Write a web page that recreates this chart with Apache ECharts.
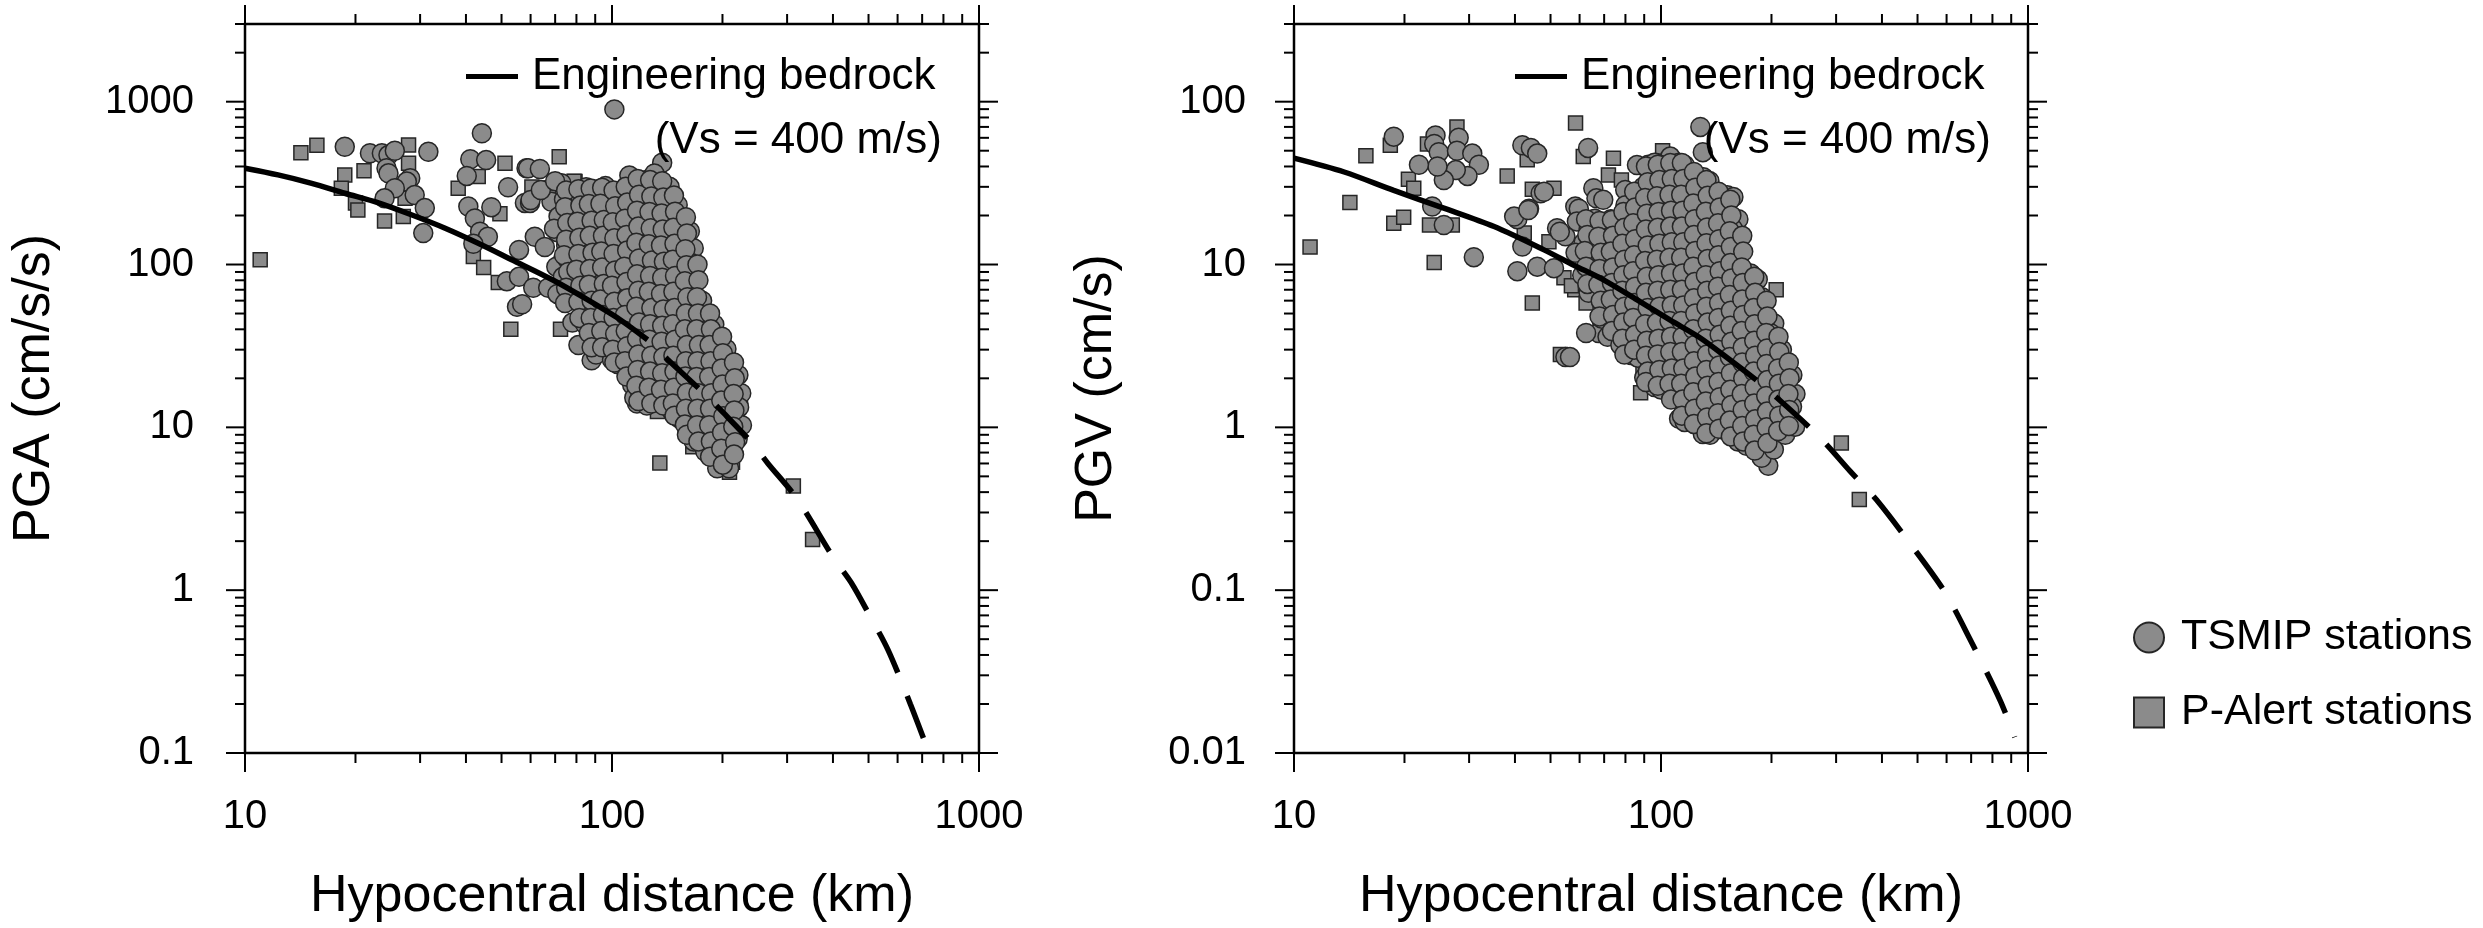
<!DOCTYPE html>
<html>
<head>
<meta charset="utf-8">
<script src="https://cdn.jsdelivr.net/npm/echarts@6/dist/echarts.min.js"></script>
<style>
html,body{margin:0;padding:0;background:#fff;}
#chart{width:2483px;height:928px;}
</style>
</head>
<body>
<div id="chart"></div>
<script>
// ---------------- DATA ----------------
const distTicks = [10, 100, 1000];
const pgaTicks = [0.1, 1, 10, 100, 1000];
const pgvTicks = [0.01, 0.1, 1, 10, 100];
const minorSteps = [2, 3, 4, 5, 6, 7, 8, 9];
const distRange = [10, 1000];
const pgaRange = [0.1, 3000];
const pgvRange = [0.01, 300];

// Engineering bedrock curve (distance km, amplitude)
const pgaCurveSolid = [[10,390],[12.3,355],[15.2,315],[18.7,274],[23.1,239],[28.4,202],[35.1,167],[43.2,135],[53.3,107],[69.2,80],[85.5,61],[105,46],[125,34.5]];
const pgaCurveDashed = [[125,34.5],[142,26],[177,16.4],[201,12.3],[242,7.9],[266,6.0],[319,3.65],[400,1.6],[450,1.1],[500,0.72],[565,0.43],[650,0.2],[731,0.1]];
const pgvCurveSolid = [[10,45],[13.7,37],[18.7,28.5],[25.6,22.2],[35.1,17.1],[48,12.3],[57.9,9.9],[69.7,8.05],[85.9,6.08],[106,4.55],[128,3.54],[154,2.6],[182,1.95]];
const pgvCurveDashed = [[182,1.95],[207,1.52],[255,0.99],[283,0.78],[327,0.54],[386,0.36],[480,0.19],[594,0.097],[695,0.05],[840,0.021],[920,0.0125]];

// PGA - TSMIP stations (circles)
const pgaTsmipLoose = [[18.7,529],[21.9,482],[23.6,482],[24.6,470],[25.6,500],[31.6,493],[24.3,390],[24.6,363],[28.2,339],[27.6,323],[25.6,294],[24.0,255],[29.0,267],[30.9,222],[30.6,156],[44.2,640],[41.1,443],[45.4,438],[40.2,350],[52.1,298],[40.6,227],[46.9,225],[42.3,192],[43.7,159],[45.9,148],[41.9,134],[51.7,79],[55.1,55],[55.8,123],[58.5,390],[57.9,239],[101.5,897],[137,422],[59.1,390],[63.6,386],[66.3,287],[72.8,316],[59.8,239],[68.4,243],[79.3,261],[79.3,205],[92.7,280],[105,267],[119,255],[124,330],[139,274],[88,25.8],[117,14],[127,14.1],[153,11.3],[172,14.4],[138,16.6],[127,18.8],[187,18.3],[207,21.8],[213,16.6],[221,13.8],[216,12],[203,9.5],[181,10.2],[179,7.5],[199,6.05],[183,7.5],[203,6.2],[55.8,84],[61,72],[67,72],[56.9,57],[61.6,148],[65.6,128],[71,158],[73.6,107],[78,102],[60,249],[64,287]];
const pgaTsmipCluster = [
[70,325],[74,251],[71.5,197],[69.5,166],[75,131],[70.5,97],[73.5,84],[71,66],
[79,265],[76,231],[80.5,171],[77.5,150],[75.5,108],[80,95],[76.5,68],[79.5,60],[78,44],
[85,298],[82,258],[86.5,190],[83,165],[81.5,121],[87,106],[83.5,76],[82,67],[86,48],[84.5,43],[81,32],
[91.5,290],[88.5,213],[90,185],[92.5,135],[89,118],[87.5,86],[92,75],[89.5,54],[93,48],[88,37],[90.5,28],
[96,303],[99.5,246],[95.5,201],[100,156],[96.5,128],[99,100],[95,82],[100.5,63],[96,52],[99,40],[95.5,33],[100,26],
[106.5,268],[103,231],[107.5,170],[104,148],[102,108],[108,95],[103.5,68],[108.5,60],[104.5,44],[102,38],[107,28],[103.5,24.5],
[111.5,352],[114.5,276],[112,224],[115.5,175],[110.5,144],[116,112],[112.5,91],[110,71],[115,58],[112,46],[109.5,36],[115.5,28.5],[111.5,23.2],[113.5,18.2],[115,15.2],
[123.5,310],[120,251],[124.5,196],[121,160],[118.5,125],[125,102],[121.5,78],[119.5,65],[124,50.5],[120.5,41],[118,33.5],[125.5,25],[121,21.6],[119.5,15.8],[124.5,13.6],
[130.5,362],[133.5,268],[131,231],[134.5,170],[129,148],[135,108],[131.5,95],[129.5,68],[134,60],[130.5,44],[128.5,37.5],[135.5,27.8],[131,24.2],[133,17.8],[130,15.2],
[143.5,300],[139.5,258],[145,191],[140.5,166],[138.5,121],[146,106],[141,76],[139,67],[145,49],[141.5,42.5],[138,31],[146,27.2],[140.5,19.8],[143,17.1],[145.5,12.6],
[151,232],[155,170],[152,149],[156,108],[149.5,95],[157,68],[151.5,60],[155.5,44],[150,37.8],[156.5,27.8],[152,24.1],[157.5,17.6],[150.5,15.2],[154.5,11.3],
[163,160],[167,126],[164.5,102],[168,80],[161.5,65],[169,50.5],[163.5,41.2],[166.5,31.8],[162.5,26.4],[168.5,20.4],[164,16.7],[170,12.9],[163,10.6],[167,8.2],
[176,60],[180,44],[177.5,38],[181.5,27.9],[175,24.2],[182,17.6],[176.5,15.3],[180.5,11.2],[175.5,9.7],[179.5,7.1],
[190,42.8],[194.5,31],[191,27.1],[195,19.6],[188.5,17.2],[196,12.6],[190.5,10.9],[194,8],[189,6.9],[193.5,5.6],
[205,30.3],[209.5,22.1],[206,19.3],[210.5,13.9],[203.5,12.3],[211,8.9],[205.5,7.7],[208.5,5.6],
[221,21],[225,16.2],[222,13.3],[226,10.3],[220,8.5]];
const pgaTsmipFill = [
[75,285],[74.5,225],[75.5,180],[75,142],[74,114],[76,90],[75,72],[74.5,58],
[81,290],[82,230],[80.5,183],[81.5,146],[81,116],[80,93],[82,74],[81,59],[81.5,47],
[87.5,293],[86.5,235],[88,186],[87,150],[88.5,118],[87,94],[86.5,75],[88,60],[87.5,47],[86.5,38],[88,31],
[94,296],[93,236],[95,188],[94.5,150],[93.5,120],[94,96],[95,76],[93,61],[94.5,49],[93.5,39],[94,31],
[101,285],[102,228],[100.5,182],[101.5,145],[101,116],[102,92],[100,74],[101.5,59],[101,47],[102,37.5],[100.5,30],[101.5,25],
[109,300],[110,240],[108.5,191],[109.5,152],[110,122],[108,97],[109.5,78],[110,62],[108.5,49],[109,39],[110,31.5],[108.5,25.5],[109.5,20.5],
[117.5,335],[118.5,268],[117,214],[118,171],[116.5,136],[118.5,109],[117,87],[118,69],[116.5,55],[118.5,44],[117,35],[118,28],[117.5,22.5],[116.5,18],[118,14.5],
[127,330],[128,262],[126.5,210],[127.5,167],[126,133],[128.5,106],[127,85],[126,68],[128,54],[127,43],[126.5,34.5],[128,27.5],[127,22],[126,17.5],[128,14],
[137,325],[138,258],[136.5,206],[137.5,164],[136,131],[138.5,104],[137,83],[136,66],[138,53],[137,42],[136.5,33.5],[138,27],[137,21.5],[136,17],[138,13.6],
[147.5,265],[148.5,211],[147,168],[148,134],[146.5,107],[148.5,85],[147,68],[148,54],[146.5,43],[148.5,34.5],[147,27.5],[148,22],[147.5,17.5],[146.5,14],[148,11.8],
[159,195],[160,155],[158.5,124],[159.5,99],[158,79],[160.5,63],[159,50],[158,40],[160,32],[159,25.5],[158.5,20.5],[160,16.3],[159,13],[158,10.4],[160,9],
[171,100],[172,80],[170.5,63],[171.5,50],[170,40],[172.5,32],[171,25.5],[170,20.4],[172,16.2],[171,13],[170.5,10.3],[172,8.2],
[185,50],[186,40],[184.5,32],[185.5,25.5],[184,20.4],[186.5,16.2],[185,13],[184,10.3],[186,8.2],[185,6.6],
[199.5,36],[200.5,28.5],[199,23],[200,18.3],[198.5,14.6],[201,11.7],[199.5,9.3],[198.5,7.4],[200.5,5.9],
[215,25],[216,20],[214.5,16],[215.5,12.7],[214,10.1],[216.5,8.1],[215,6.8]];
// PGA - P-Alert stations (squares)
const pgaPAlert = [[11,107],[14.2,486],[15.7,540],[18.7,355],[18.3,294],[20,239],[20.3,216],[21.1,377],[27.9,542],[27.9,419],[27.3,255],[24,185],[27,197],[51.1,419],[43.2,347],[38.1,294],[49.5,205],[41.9,112],[44.7,96],[49,77.6],[53,40],[71.8,459],[79.3,323],[60.5,299],[72.4,40],[83.6,33],[135,6.05],[312,4.36],[352,2.05],[209,5.3],[213,6.1],[103,27.3],[112,25.4],[197,34.5],[210,25.2],[166,7.6],[133,12.5],[135,325],[78.8,325],[90,60],[97,45],[120,55],[150,70],[165,120],[130,180],[100,160],[142,40],[160,20],[188,12]];

// PGV - TSMIP stations (circles)
const pgvTsmipLoose = [[18.7,61],[24.3,62],[24.1,55],[24.8,49],[28.1,60],[27.8,50],[30.6,48],[31.9,41],[29.7,35],[27.6,38],[25.6,33],[24.6,40],[21.9,41],[23.8,22.7],[25.6,17.5],[30.9,11.1],[41.9,54],[44.2,52],[46,48],[47,27.4],[43.7,22],[40.6,19],[39.8,19.7],[41.9,12.9],[40.6,9.1],[46,9.7],[51.1,9.5],[52.1,16.7],[54.9,14.9],[54.9,2.7],[63.3,52],[65.4,29.4],[66.7,25.5],[69.6,25],[79.9,28.7],[58.4,22.7],[128,70],[130,49],[67.6,3.8],[56.5,2.7],[43.5,21.6],[48,28],[53,15.9],[59.7,22],[73,19],[81,18],[65,12.9],[73,14.2],[62.5,3.8],[196,0.58],[92.3,41],[97.4,42],[106,46]];
const pgvTsmipCluster = [
[59,18.4],[61.5,13.6],[58.5,11.8],[61,8.6],
[66,19.1],[63.5,16.5],[67,12.0],[64,10.5],[66.5,7.7],[63.5,6.7],
[69.5,17.9],[72,14.0],[69,11.5],[72.5,8.8],[69.5,7.3],[72,5.6],[69,4.65],[71.5,3.6],
[78,19.6],[75.5,16.1],[78.5,12.4],[75,10.2],[78,7.9],[75.5,6.5],[78.5,5.0],[75,4.1],[77.5,3.2],
[80,23.1],[83,17.0],[79.5,14.8],[83.5,10.8],[80,9.4],[83,6.9],[79.5,5.9],[82.5,4.4],[80,3.8],[83,2.78],
[86,40.8],[89.5,30],[86.5,25.9],[90,19.1],[86,16.5],[89.5,12.1],[85.5,10.5],[90.5,7.7],[86.5,6.7],[89.5,4.85],[86,4.2],[89,3.1],[86.5,2.68],[90,2.02],
[96,42.2],[93,36.6],[96.5,26.8],[93,23.2],[96.5,17],[92.5,14.9],[96,10.8],[93,9.4],[96.5,6.9],[93.5,5.95],[96,4.4],[93,3.8],[96.5,2.78],[93.5,2.4],[96,1.77],
[100,40.9],[103.5,30],[100.5,25.9],[104,19.1],[99.5,16.5],[104,12.1],[100.5,10.5],[103.5,7.7],[100,6.7],[104,4.85],[99.5,4.2],[104.5,3.1],[100.5,2.68],[103.5,1.98],[100,1.71],
[112,42.2],[108,36.6],[112.5,26.8],[108,23.2],[112,17],[107.5,14.9],[112.5,10.8],[108,9.4],[112,6.9],[107.5,5.95],[112.5,4.4],[108,3.8],[112,2.78],[107.5,2.4],[112.5,1.77],[108,1.52],[112,1.13],
[116,40.9],[120.5,30],[116.5,25.9],[121,19.1],[116,16.5],[121,12.1],[116.5,10.5],[120.5,7.7],[116,6.7],[121,4.85],[116.5,4.2],[121,3.1],[116,2.68],[120.5,1.98],[116.5,1.71],[121,1.26],[116,1.08],
[130.5,34.4],[125.5,28.4],[131,21.8],[125.5,18.1],[130.5,13.9],[125,11.5],[131,8.8],[125.5,7.3],[130.5,5.6],[125,4.65],[131,3.6],[125.5,2.95],[130.5,2.26],[125,1.88],[131,1.43],[125.5,1.2],[130,0.91],
[135.5,32.6],[140.5,23.8],[135,20.8],[141,15.1],[135.5,13.2],[141,9.6],[135,8.4],[140.5,6.1],[135.5,5.4],[141,3.9],[135,3.4],[140.5,2.47],[135.5,2.15],[141,1.57],[135,1.38],[140.5,1.0],[136,0.9],
[151.5,26.6],[146.5,23.3],[152,16.9],[146.5,14.9],[152,10.7],[146,9.4],[151.5,6.9],[146.5,6.0],[152,4.35],[146,3.8],[151.5,2.76],[146.5,2.4],[152,1.76],[146,1.53],[151.5,1.12],[147,0.97],
[157.5,26],[162.5,19],[157,16.6],[163,12],[157.5,10.5],[163,7.6],[157,6.7],[162.5,4.85],[157.5,4.2],[163,3.1],[157,2.68],[162.5,1.98],[157.5,1.71],[163,1.26],[157,1.08],[162,0.82],
[175.5,8.8],[170.5,7.3],[176,5.6],[170.5,4.65],[175.5,3.6],[170,2.95],[176,2.26],[170.5,1.88],[175.5,1.43],[170,1.2],[176,0.91],[171,0.77],
[183.5,8.1],[188.5,6.3],[183,5.2],[189,3.95],[183.5,3.3],[189,2.52],[183,2.1],[188.5,1.6],[183.5,1.34],[189,1.02],[183,0.87],[188,0.65],
[203.5,4.35],[198.5,3.8],[204,2.76],[198.5,2.4],[203.5,1.76],[198,1.53],[204,1.12],[198.5,0.97],[203,0.73],
[213.5,3.0],[218.5,2.23],[213,1.9],[219,1.41],[213.5,1.2],[218,0.9],
[228,2.1],[232.5,1.6],[227.5,1.34],[232,1.01]];
const pgvTsmipFill = [
[62.5,19],[63,15.2],[62,12.1],[62.5,9.7],[63,7.6],
[68,18.5],[67.5,14.8],[68.5,11.8],[68,9.4],[67.5,7.5],[68.5,6.0],[68,4.8],
[73.5,18.8],[74,15],[73,12],[74,9.6],[73.5,7.7],[73,6.1],[74,4.9],[73.5,3.9],
[79,21],[79.5,16.8],[78.5,13.4],[79.5,10.7],[79,8.6],[78.5,6.9],[79.5,5.5],[79,4.4],[78.5,3.5],[79.5,2.8],
[84.5,28],[85,22.4],[84,17.9],[85,14.3],[84.5,11.4],[84,9.1],[85,7.3],[84.5,5.8],[84,4.7],[85,3.7],[84.5,3.0],
[91,40],[92,32],[90.5,25.6],[91.5,20.5],[91,16.4],[92,13.1],[90.5,10.5],[91.5,8.4],[91,6.7],[92,5.4],[90.5,4.3],[91.5,3.4],[91,2.75],[92,2.2],[91,1.9],
[98,41],[99,33],[97.5,26.3],[98.5,21],[98,16.8],[99,13.4],[97.5,10.7],[98.5,8.6],[98,6.9],[99,5.5],[97.5,4.4],[98.5,3.5],[98,2.8],[99,2.25],[98,1.8],
[106,42],[107,33.5],[105.5,26.8],[106.5,21.4],[106,17.1],[107,13.7],[105.5,11],[106.5,8.8],[106,7],[107,5.6],[105.5,4.5],[106.5,3.6],[106,2.9],[107,2.3],[105.5,1.85],[106.5,1.48],
[114,42],[115,33.5],[113.5,26.8],[114.5,21.4],[114,17.1],[115,13.7],[113.5,11],[114.5,8.8],[114,7],[115,5.6],[113.5,4.5],[114.5,3.6],[114,2.9],[115,2.3],[113.5,1.85],[114.5,1.48],[114,1.18],
[123,37],[124,29.6],[122.5,23.7],[123.5,19],[123,15.2],[124,12.1],[122.5,9.7],[123.5,7.8],[123,6.2],[124,5],[122.5,4],[123.5,3.2],[123,2.55],[124,2.05],[122.5,1.64],[123.5,1.3],[123,1.05],
[133,33],[134,26.4],[132.5,21.1],[133.5,16.9],[133,13.5],[134,10.8],[132.5,8.6],[133.5,6.9],[133,5.5],[134,4.4],[132.5,3.5],[133.5,2.8],[133,2.25],[134,1.8],[132.5,1.44],[133.5,1.15],[133,0.92],
[143.5,28],[144.5,22.4],[143,17.9],[144,14.3],[143.5,11.4],[144.5,9.1],[143,7.3],[144,5.8],[143.5,4.7],[144.5,3.7],[143,3.0],[144,2.4],[143.5,1.9],[144.5,1.53],[143,1.22],[144,0.98],
[154.5,25],[155.5,20],[154,16],[155,12.8],[154.5,10.2],[155.5,8.2],[154,6.5],[155,5.2],[154.5,4.2],[155.5,3.35],[154,2.7],[155,2.15],[154.5,1.7],[155.5,1.37],[154,1.1],[155,0.88],
[166.5,15],[167.5,12],[166,9.6],[167,7.7],[166.5,6.1],[167.5,4.9],[166,3.9],[167,3.1],[166.5,2.5],[167.5,2.0],[166,1.6],[167,1.28],[166.5,1.02],[167.5,0.82],
[179.5,8.4],[180.5,6.7],[179,5.4],[180,4.3],[179.5,3.4],[180.5,2.75],[179,2.2],[180,1.76],[179.5,1.4],[180.5,1.12],[179,0.9],[180,0.72],
[194,6.0],[195,4.8],[193.5,3.8],[194.5,3.05],[194,2.45],[195,1.95],[193.5,1.56],[194.5,1.25],[194,1.0],[195,0.8],
[209,3.6],[210,2.9],[208.5,2.3],[209.5,1.85],[209,1.48],[210,1.18],[208.5,0.95],
[223,2.5],[224,2.0],[222.5,1.6],[223.5,1.28],[223,1.02]];
// PGV - P-Alert stations (squares)
const pgvPAlert = [[11.06,12.8],[14.2,24],[15.7,46.6],[18.3,54],[18.7,17.9],[19.9,19.5],[20.5,33.4],[21.2,29.4],[23.4,17.5],[27,17.5],[24.1,10.3],[27.8,70],[23.1,55],[38.1,35],[43.2,44],[44.6,29],[51.1,29.4],[42.4,15.6],[44.6,5.8],[49.5,13.8],[54.4,8.3],[53.2,2.8],[58.5,74],[61.4,46],[74.2,45],[71.9,35.5],[78,33],[83.5,23.9],[58.2,7.0],[62.5,5.8],[68.2,4.6],[82.4,3.9],[89.3,2.3],[88,1.63],[206,7.0],[310,0.80],[347,0.36],[57,7.4],[101,50],[150,1.0],[170,0.8],[120,1.2],[110,2],[140,3],[160,5],[95,8],[200,1.2],[180,3]];

const curveName = 'Engineering bedrock';
const curveNote = '(Vs = 400 m/s)';
const tsmipName = 'TSMIP stations';
const palertName = 'P-Alert stations';
const xTitle = 'Hypocentral distance (km)';
const pgaTitle = 'PGA (cm/s/s)';
const pgvTitle = 'PGV (cm/s)';

// ---------------- STYLE / LAYOUT ----------------
const FONT = '"Liberation Sans", Arial, Helvetica, sans-serif';
const GRID_TOP = 24, GRID_W = 734, GRID_H = 730;
const GRID_LEFT = [245, 1294];
const markerFill = '#8b8b8b';
const markerBorder = '#262626';

function fmtLog(v) {
  const l = Math.log10(v);
  if (Math.abs(l - Math.round(l)) > 1e-6) return '';
  return String(Number(v.toPrecision(6)));
}

function buildTicks(majors, range, isY, otherMin) {
  const out = [];
  majors.forEach(function (m) {
    if (m >= range[0] * 0.999 && m <= range[1] * 1.001) out.push(isY ? [otherMin, m, 3] : [m, otherMin, 1]);
    minorSteps.forEach(function (s) {
      const v = m * s;
      if (v <= range[1] * 1.001) out.push(isY ? [otherMin, v, 2] : [v, otherMin, 0]);
    });
  });
  return out;
}

function tickSeries(idx, yRange) {
  const data = buildTicks(distTicks, distRange, false, yRange[0])
    .concat(buildTicks(idx === 0 ? pgaTicks : pgvTicks, yRange, true, distRange[0]));
  return {
    type: 'custom', xAxisIndex: idx, yAxisIndex: idx, clip: false, z: 20, silent: true,
    data: data,
    renderItem: function (params, api) {
      const code = api.value(2);
      const len = (code % 2 === 1) ? 19 : 10;
      const st = { stroke: '#000', lineWidth: 2 };
      if (code < 2) {
        const v = api.value(0);
        const b = api.coord([v, yRange[0]]), t = api.coord([v, yRange[1]]);
        return { type: 'group', children: [
          { type: 'line', shape: { x1: b[0], y1: b[1], x2: b[0], y2: b[1] + len }, style: st },
          { type: 'line', shape: { x1: t[0], y1: t[1], x2: t[0], y2: t[1] - len }, style: st }
        ]};
      } else {
        const v = api.value(1);
        const l = api.coord([distRange[0], v]), r = api.coord([distRange[1], v]);
        return { type: 'group', children: [
          { type: 'line', shape: { x1: l[0], y1: l[1], x2: l[0] - len, y2: l[1] }, style: st },
          { type: 'line', shape: { x1: r[0], y1: r[1], x2: r[0] + len, y2: r[1] }, style: st }
        ]};
      }
    }
  };
}

function panelSeries(idx, pAlert, tsmip, solid, dashed, yRange) {
  return [
    { name: palertName, type: 'scatter', xAxisIndex: idx, yAxisIndex: idx, symbol: 'rect', symbolSize: 14, z: 2,
      itemStyle: { color: markerFill, borderColor: markerBorder, borderWidth: 1.5, opacity: 1 }, data: pAlert },
    { name: tsmipName, type: 'scatter', xAxisIndex: idx, yAxisIndex: idx, symbol: 'circle', symbolSize: 19, z: 3,
      itemStyle: { color: markerFill, borderColor: markerBorder, borderWidth: 1.5, opacity: 1 }, data: tsmip },
    { name: curveName, type: 'line', xAxisIndex: idx, yAxisIndex: idx, showSymbol: false, symbol: 'none', smooth: 0.3, z: 5,
      lineStyle: { color: '#000', width: 5.5 }, data: solid },
    { name: curveName + ' ext', type: 'line', xAxisIndex: idx, yAxisIndex: idx, showSymbol: false, symbol: 'none', smooth: 0.3, z: 5,
      lineStyle: { color: '#000', width: 5.5, type: [45, 25], dashOffset: 45, cap: 'butt' }, data: dashed },
    tickSeries(idx, yRange)
  ];
}

function xAxis(idx) {
  return {
    type: 'log', logBase: 10, gridIndex: idx, min: distRange[0], max: distRange[1],
    name: xTitle, nameLocation: 'middle', nameGap: 118,
    nameTextStyle: { fontSize: 52, fontFamily: FONT, color: '#000' },
    axisLine: { show: false }, axisTick: { show: false }, splitLine: { show: false }, minorTick: { show: false },
    axisLabel: { fontSize: 40, fontFamily: FONT, color: '#000', margin: 44, formatter: fmtLog, showMinLabel: true, showMaxLabel: true }
  };
}
function yAxis(idx) {
  const r = idx === 0 ? pgaRange : pgvRange;
  return {
    type: 'log', logBase: 10, gridIndex: idx, min: r[0], max: r[1],
    name: idx === 0 ? pgaTitle : pgvTitle, nameLocation: 'middle', nameGap: idx === 0 ? 184 : 171, nameRotate: 90,
    nameTextStyle: { fontSize: 52, fontFamily: FONT, color: '#000' },
    axisLine: { show: false }, axisTick: { show: false }, splitLine: { show: false }, minorTick: { show: false },
    axisLabel: { fontSize: 40, fontFamily: FONT, color: '#000', margin: idx === 0 ? 51 : 48, formatter: fmtLog }
  };
}

function curveLegend(gl) {
  return [
    { type: 'rect', shape: { x: gl + 221, y: GRID_TOP + 50, width: 52, height: 5 }, style: { fill: '#000' }, z: 30 },
    { type: 'text', x: gl + 287, y: GRID_TOP + 53, z: 30,
      style: { text: curveName, fontSize: 44, fontFamily: FONT, fill: '#000', align: 'left', verticalAlign: 'middle' } },
    { type: 'text', x: gl + 697, y: GRID_TOP + 117, z: 30,
      style: { text: curveNote, fontSize: 44, fontFamily: FONT, fill: '#000', align: 'right', verticalAlign: 'middle' } }
  ];
}

const chart = echarts.init(document.getElementById('chart'), null, { renderer: 'canvas' });
chart.setOption({
  animation: false,
  backgroundColor: '#fff',
  grid: GRID_LEFT.map(function (l) {
    return { left: l, top: GRID_TOP, width: GRID_W, height: GRID_H, show: true, borderColor: '#000', borderWidth: 2.5, backgroundColor: 'transparent', containLabel: false };
  }),
  xAxis: [xAxis(0), xAxis(1)],
  yAxis: [yAxis(0), yAxis(1)],
  legend: {
    data: [tsmipName, palertName], orient: 'vertical', left: 2128, top: 611,
    itemWidth: 30, itemHeight: 30, itemGap: 32, selectedMode: false,
    textStyle: { fontSize: 43, fontFamily: FONT, color: '#000', padding: [0, 0, 0, 12] }
  },
  graphic: curveLegend(GRID_LEFT[0]).concat(curveLegend(GRID_LEFT[1])),
  series: []
    .concat(panelSeries(0, pgaPAlert, pgaTsmipLoose.concat(pgaTsmipCluster, pgaTsmipFill), pgaCurveSolid, pgaCurveDashed, pgaRange))
    .concat(panelSeries(1, pgvPAlert, pgvTsmipLoose.concat(pgvTsmipCluster, pgvTsmipFill), pgvCurveSolid, pgvCurveDashed, pgvRange))
});
</script>
</body>
</html>
